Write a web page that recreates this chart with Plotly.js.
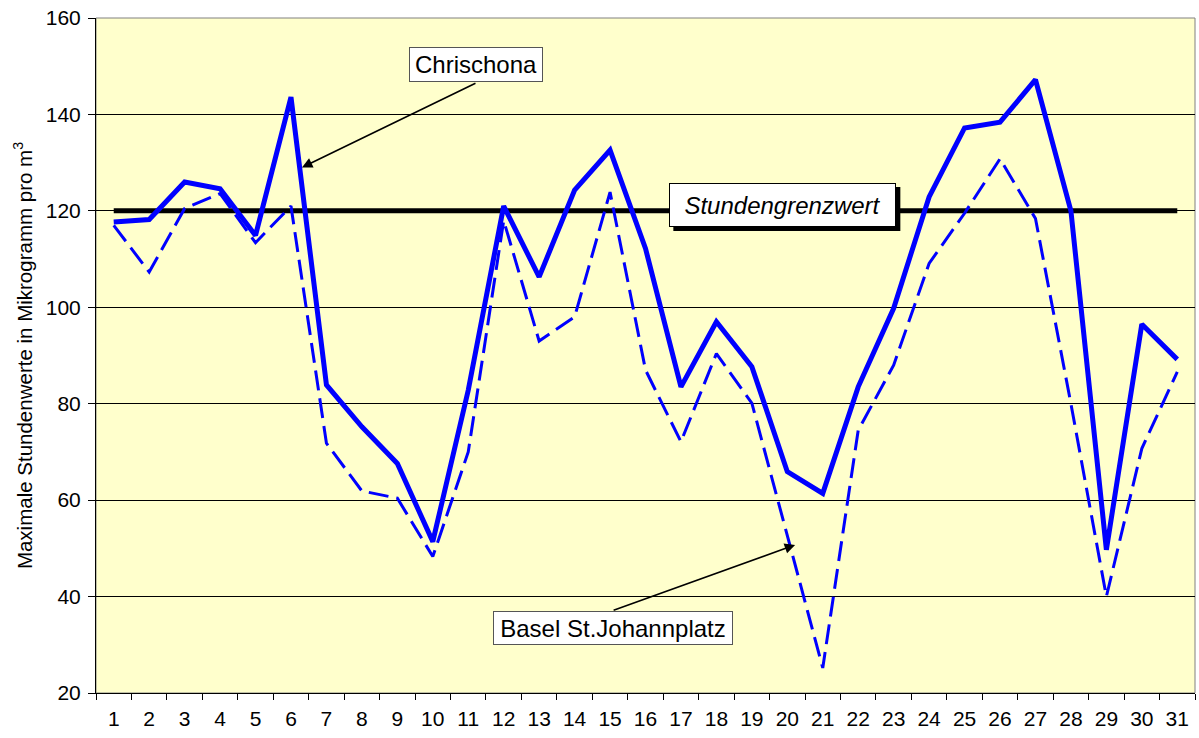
<!DOCTYPE html>
<html>
<head>
<meta charset="utf-8">
<script src="https://cdn.plot.ly/plotly-3.0.1.min.js"></script>
<style>html,body{margin:0;padding:0;background:#fff;}#chart{width:1199px;height:738px;}</style>
</head>
<body>
<div id="chart"></div>
<script>
const days = ["1","2","3","4","5","6","7","8","9","10","11","12","13","14","15","16","17","18","19","20","21","22","23","24","25","26","27","28","29","30","31"];
const chrischona = [117.7,118.2,126.0,124.6,114.9,143.6,83.9,75.2,67.6,51.4,82.8,121.0,106.3,124.3,132.6,112.2,83.5,97.0,87.7,65.9,61.4,83.5,99.8,122.9,137.2,138.4,147.2,120.0,49.7,96.5,89.2];
const basel = [117.0,107.3,120.5,123.6,113.4,121.0,71.8,61.9,60.4,48.3,70.0,118.0,93.0,98.0,123.9,87.0,72.1,90.4,80.1,52.4,25.2,74.5,88.0,109.1,119.5,130.8,118.4,80.0,40.0,70.7,86.6];
const grenzwert = days.map(() => 120);

const FONT = "Liberation Sans, Arial, sans-serif";

const traces = [
  {x: days, y: grenzwert, type: "scatter", mode: "lines", name: "Stundengrenzwert",
   line: {color: "#000000", width: 5}, hoverinfo: "skip"},
  {x: days, y: basel, type: "scatter", mode: "lines", name: "Basel St.Johannplatz",
   line: {color: "#0000FF", width: 3, dash: "20px,8px"}},
  {x: days, y: chrischona, type: "scatter", mode: "lines", name: "Chrischona",
   line: {color: "#0000FF", width: 5}}
];

const layout = {
  width: 1199, height: 738,
  margin: {l: 96, r: 4, t: 18, b: 45},
  paper_bgcolor: "#FFFFFF",
  plot_bgcolor: "#FFFFCC",
  showlegend: false,
  font: {family: FONT, color: "#000000"},
  xaxis: {
    type: "category", range: [-0.5, 30.5], automargin: false,
    tickson: "boundaries", ticks: "outside", ticklen: 6, tickcolor: "#000", tickwidth: 1,
    ticklabelstandoff: 7,
    showgrid: false, showline: true, linecolor: "#000", linewidth: 1,
    tickfont: {size: 21, family: FONT, color: "#000"}, zeroline: false
  },
  yaxis: {
    range: [20, 160], dtick: 20, tick0: 20, automargin: false,
    ticks: "outside", ticklen: 7, tickcolor: "#000", tickwidth: 1,
    ticklabelstandoff: 3,
    showgrid: true, gridcolor: "#000000", gridwidth: 1,
    showline: true, linecolor: "#000", linewidth: 1, zeroline: false,
    tickfont: {size: 21, family: FONT, color: "#000"},
    title: {text: "Maximale Stundenwerte in Mikrogramm pro m<sup>3</sup>", font: {size: 20.5, family: FONT, color: "#000"}, standoff: 7}
  },
  shapes: [
    {type: "rect", xref: "paper", yref: "paper", x0: 0, x1: 1, y0: 0, y1: 1,
     line: {color: "#808080", width: 1}, layer: "below"},
    {type: "rect", xref: "x", yref: "y", xsizemode: "pixel", ysizemode: "pixel",
     xanchor: 18.86, yanchor: 121.22, x0: -109, x1: 118, y0: -26, y1: 18,
     fillcolor: "#000000", line: {width: 0}, layer: "above"}
  ],
  annotations: [
    {xref: "x", yref: "y", x: 5.31, y: 129.0, text: "", showarrow: true,
     ax: 175, ay: -85, arrowhead: 2, arrowsize: 1.3, arrowwidth: 1.6, arrowcolor: "#000"},
    {xref: "x", yref: "y", x: 10.22, y: 150.26, text: "Chrischona", showarrow: false,
     font: {size: 24, family: FONT, color: "#000"}, bgcolor: "#FFFFFF",
     bordercolor: "#555555", borderwidth: 1, borderpad: 0, width: 132, height: 33},
    {xref: "x", yref: "y", x: 19.22, y: 50.72, text: "", showarrow: true,
     ax: -183, ay: 66, arrowhead: 2, arrowsize: 1.3, arrowwidth: 1.6, arrowcolor: "#000"},
    {xref: "x", yref: "y", x: 14.07, y: 33.55, text: "Basel St.Johannplatz", showarrow: false,
     font: {size: 24, family: FONT, color: "#000"}, bgcolor: "#FFFFFF",
     bordercolor: "#555555", borderwidth: 1, borderpad: 0, width: 238, height: 32},
    {xref: "x", yref: "y", x: 18.86, y: 121.22, text: "<i>Stundengrenzwert</i>", showarrow: false,
     font: {size: 24, family: FONT, color: "#000"}, bgcolor: "#FFFFFF",
     bordercolor: "#000", borderwidth: 1, borderpad: 0, width: 225, height: 42}
  ]
};

Plotly.newPlot("chart", traces, layout, {displayModeBar: false, staticPlot: true});
</script>
</body>
</html>
